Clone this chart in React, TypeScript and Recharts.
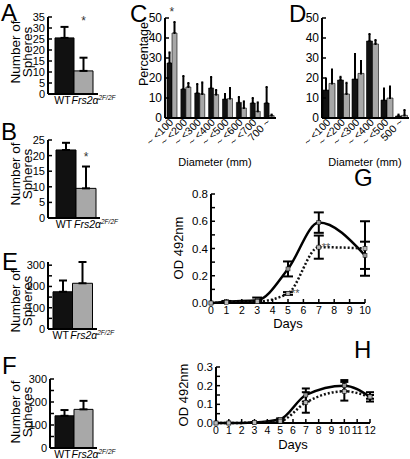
import React from "react";
import {
  BarChart, Bar, LineChart, Line, XAxis, YAxis, ErrorBar, Cell, ReferenceDot, LabelList
} from "recharts";

const FONT = "'Liberation Sans', Arial, sans-serif";

// A, B, E, F: number of spheres, WT vs Frs2a 2F/2F
const groups = ["WT", "Frs2"];
const aMeans = [25.5, 10.5];
const aErrs = [5, 6];
const bMeans = [21.8, 9.5];
const bErrs = [2.3, 7];
const eMeans = [175, 215];
const eErrs = [53, 100];
const fMeans = [140, 168];
const fErrs = [25, 37];

// C, D: sphere diameter distribution (%)
const cBins = ["~ <100", "~ <200", "~ <300", "~ <400", "~ <500", "~ <600", "~ <700", "700 ~"];
const cWt = [27.5, 14.5, 12.5, 15, 9.5, 7.8, 7.5, 7.5];
const cWtErr = [5.3, 6.5, 4.5, 5.5, 2.5, 2.7, 2.5, 8];
const cKo = [42.5, 15.5, 12, 11.7, 9.7, 5, 3.3, 1.2];
const cKoErr = [5.5, 2, 5.8, 2.3, 5.3, 3.3, 4.5, 0.5];

const dBins = ["~ <100", "~ <200", "~ <300", "~ <400", "~ <500", "500 ~"];
const dWt = [14, 19, 19.5, 38.5, 9, 1];
const dWtErr = [5.8, 1.6, 12.5, 3.5, 5.7, 0.7];
const dKo = [17.3, 12, 22.3, 37, 10, 1.3];
const dKoErr = [7, 5.6, 6.2, 2, 5.7, 2.7];

// G, H: OD 492nm over days
const gDays = [0, 1, 3, 5, 7, 10];
const gWt = [0, 0.01, 0.02, 0.25, 0.59, 0.35];
const gWtErr = [0, 0.005, 0.02, 0.055, 0.075, 0.1];
const gKo = [0, 0.005, 0.01, 0.07, 0.41, 0.4];
const gKoErr = [0, 0.003, 0.005, 0.01, 0.085, 0.2];
const gStars = ["", "", "", "**", "**", ""];
const gXTicks = [0, 1, 2, 3, 4, 5, 6, 7, 8, 9, 10];
const gYTicks = [0, 0.1, 0.2, 0.3, 0.4, 0.5, 0.6, 0.7, 0.8];

const hDays = [0, 1, 3, 5, 7, 10, 12];
const hWt = [0, 0, 0.003, 0.02, 0.15, 0.2, 0.14];
const hWtErr = [0, 0, 0.002, 0.005, 0.035, 0.03, 0.025];
const hKo = [0, 0, 0.002, 0.01, 0.11, 0.17, 0.14];
const hKoErr = [0, 0, 0.001, 0.005, 0.055, 0.05, 0.01];
const hXTicks = [0, 1, 2, 3, 4, 5, 6, 7, 8, 9, 10, 11, 12];
const hYTicks = [0, 0.05, 0.1, 0.15, 0.2, 0.25, 0.3];

const AX = { stroke: "#000", strokeWidth: 2 };
const TICK = { fontSize: 11, fill: "#000", fontFamily: FONT };

const GroupTick = (p: any) => {
  const { x, y, payload } = p;
  if (payload.value === "WT")
    return <text x={x - 2} y={y + 10} textAnchor="middle" fontSize={10.5} fontFamily={FONT}>WT</text>;
  return (
    <text x={x - 12} y={y + 10} fontSize={10.5} fontFamily={FONT} fontStyle="italic">
      Frs2α<tspan dy={-4} fontSize={6.5}>2F/2F</tspan>
    </text>
  );
};

const BinTick = (p: any) => {
  const { x, y, payload } = p;
  const tx = x + 2;
  const ty = y + 5;
  return (
    <text x={tx} y={ty} transform={`rotate(-45 ${tx} ${ty})`} textAnchor="end" fontSize={10.5} fontFamily={FONT}>
      {payload.value}
    </text>
  );
};

const square = (fill: string) => (p: any) => (
  <rect key={`d${p.index}`} x={p.cx - 2} y={p.cy - 2} width={4} height={4} fill={fill} stroke="#000" strokeWidth={0.5} />
);

function SpherePanel({ yTop, yZero, axisX, right, padL, padR, means, errs, max, ticks, major, star }: any) {
  const top = yTop - 10;
  const data = groups.map((g, i) => ({ g, v: means[i], e: [0, errs[i]] }));
  return (
    <div style={{ position: "absolute", left: 0, top }}>
      <BarChart
        width={right + 22}
        height={yZero - top + 20}
        data={data}
        barCategoryGap={0}
        margin={{ top: 10, right: 22, bottom: 4, left: axisX - 30 }}
      >
        <XAxis dataKey="g" height={16} padding={{ left: padL, right: padR }} interval={0}
          axisLine={AX} tickLine={false} tickSize={0} tickMargin={0} tick={<GroupTick />} />
        <YAxis width={30} domain={[0, max]} ticks={ticks} interval={0} axisLine={AX}
          tickLine={{ stroke: "#000", strokeWidth: 1.5 }} tickSize={-4} tickMargin={7} tick={TICK}
          tickFormatter={(v: number) => (v % major === 0 ? String(v) : "")} />
        <Bar dataKey="v" stroke="#000" strokeWidth={1} isAnimationActive={false}>
          {data.map((d, i) => <Cell key={d.g} fill={i === 0 ? "#111" : "#a8a8a8"} />)}
          <ErrorBar dataKey="e" width={4} strokeWidth={2} stroke="#000" />
        </Bar>
        {star !== undefined && (
          <ReferenceDot x="Frs2" y={star} r={1} fill="none" stroke="none" ifOverflow="visible"
            label={{ value: "*", position: "center", fontSize: 12, fill: "#333", fontFamily: FONT }} />
        )}
      </BarChart>
    </div>
  );
}

function DiameterPanel({ left, width, padLeft, bins, wt, wtErr, ko, koErr, barSize, star }: any) {
  const data = bins.map((b: string, i: number) => ({
    b, wt: wt[i], wtE: [0, wtErr[i]], ko: ko[i], koE: [0, koErr[i]],
  }));
  return (
    <div style={{ position: "absolute", left, top: 0 }}>
      <BarChart width={width} height={154} data={data} barGap={0} barSize={barSize}
        margin={{ top: 18, right: 1, bottom: 2, left: padLeft }}>
        <XAxis dataKey="b" height={34} interval={0} axisLine={AX} tickLine={false}
          tickSize={0} tickMargin={0} tick={<BinTick />} />
        <YAxis width={30} domain={[0, 50]} ticks={[0, 10, 20, 30, 40, 50]} interval={0} axisLine={AX}
          tickLine={{ stroke: "#000", strokeWidth: 1.5 }} tickSize={-4} tickMargin={7}
          tick={{ ...TICK, fontSize: 12 }} />
        <Bar dataKey="wt" fill="#111" stroke="#000" strokeWidth={0.6} isAnimationActive={false}>
          <ErrorBar dataKey="wtE" width={1} strokeWidth={2} stroke="#000" />
        </Bar>
        <Bar dataKey="ko" fill="#a8a8a8" stroke="#000" strokeWidth={0.6} isAnimationActive={false}>
          <ErrorBar dataKey="koE" width={1} strokeWidth={2} stroke="#000" />
        </Bar>
        {star && (
          <ReferenceDot x={bins[0]} y={53} r={1} fill="none" stroke="none" ifOverflow="visible"
            label={{ value: "*", position: "center", fontSize: 12, fill: "#333", fontFamily: FONT }} />
        )}
      </BarChart>
    </div>
  );
}

function GrowthPanel({ left, top, width, height, padLeft, padTop, days, wt, wtErr, ko, koErr, stars, xTicks, yTicks, yMax, capW, fmt }: any) {
  const data = days.map((d: number, i: number) => ({
    day: d, wt: wt[i], wtE: wtErr[i], ko: ko[i], koE: koErr[i], star: stars ? stars[i] : "",
  }));
  return (
    <div style={{ position: "absolute", left, top }}>
      <LineChart width={width} height={height} data={data}
        margin={{ top: padTop, right: 10, bottom: 4, left: padLeft }}>
        <XAxis dataKey="day" type="number" domain={[0, xTicks[xTicks.length - 1]]} ticks={xTicks} interval={0}
          height={16} axisLine={AX} tickLine={{ stroke: "#000", strokeWidth: 1.5 }} tickSize={-4} tickMargin={8}
          tick={{ ...TICK, fontSize: 10.5 }} />
        <YAxis type="number" domain={[0, yMax]} ticks={yTicks} interval={0} width={30} axisLine={AX}
          tickLine={{ stroke: "#000", strokeWidth: 1.5 }} tickSize={-4} tickMargin={7}
          tick={{ ...TICK, fontSize: 11.5 }} tickFormatter={fmt} />
        <Line dataKey="wt" type="monotone" stroke="#000" strokeWidth={2.5} dot={square("#999")} isAnimationActive={false}>
          <ErrorBar dataKey="wtE" width={capW} strokeWidth={2} stroke="#000" />
        </Line>
        <Line dataKey="ko" type="monotone" stroke="#111" strokeWidth={2.5} strokeDasharray="2 2"
          dot={square("#bbb")} isAnimationActive={false}>
          <ErrorBar dataKey="koE" width={capW} strokeWidth={2} stroke="#000" />
          <LabelList dataKey="star" position="right" offset={3} fontSize={11} fill="#555" fontFamily={FONT} />
        </Line>
      </LineChart>
    </div>
  );
}

const sphereTitle = (cy: number) => (
  <text key={cy} transform="rotate(-90)" textAnchor="middle" fontSize={13.5}>
    <tspan x={-cy} y={20}>Number of</tspan>
    <tspan x={-cy} y={31.5}>Spheres</tspan>
  </text>
);

export default function App() {
  return (
    <div style={{ position: "absolute", left: 0, top: 0, width: 410, height: 459, overflow: "hidden", background: "#fff", fontFamily: FONT }}>
      <SpherePanel yTop={17} yZero={94} axisX={48} right={98} padL={7} padR={5}
        means={aMeans} errs={aErrs} max={35} ticks={[0, 5, 10, 15, 20, 25, 30, 35]} major={5} star={33.5} />
      <SpherePanel yTop={140} yZero={218} axisX={48} right={100} padL={8} padR={4}
        means={bMeans} errs={bErrs} max={25} ticks={[0, 5, 10, 15, 20, 25]} major={5} star={19.5} />
      <SpherePanel yTop={262} yZero={329} axisX={48} right={97} padL={5} padR={5}
        means={eMeans} errs={eErrs} max={300} ticks={[0, 50, 100, 150, 200, 250, 300]} major={100} />
      <SpherePanel yTop={379} yZero={448} axisX={50} right={97} padL={5} padR={4}
        means={fMeans} errs={fErrs} max={300} ticks={[0, 50, 100, 150, 200, 250, 300]} major={100} />

      <DiameterPanel left={130} width={147} padLeft={5} bins={cBins} wt={cWt} wtErr={cWtErr}
        ko={cKo} koErr={cKoErr} barSize={5} star />
      <DiameterPanel left={285} width={125} padLeft={7} bins={dBins} wt={dWt} wtErr={dWtErr}
        ko={dKo} koErr={dKoErr} barSize={6} />

      <GrowthPanel left={165} top={185} width={210} height={138} padLeft={16} padTop={9}
        days={gDays} wt={gWt} wtErr={gWtErr} ko={gKo} koErr={gKoErr} stars={gStars}
        xTicks={gXTicks} yTicks={gYTicks} yMax={0.8} capW={5}
        fmt={(v: number) => (Math.round(v * 10) % 2 === 0 ? v.toFixed(1) : "")} />
      <GrowthPanel left={170} top={355} width={210} height={88} padLeft={16} padTop={12}
        days={hDays} wt={hWt} wtErr={hWtErr} ko={hKo} koErr={hKoErr}
        xTicks={hXTicks} yTicks={hYTicks} yMax={0.3} capW={4}
        fmt={(v: number) => (Math.round(v * 100) % 10 === 0 ? v.toFixed(1) : "")} />

      <svg width={410} height={459} style={{ position: "absolute", left: 0, top: 0, pointerEvents: "none" }}
        fontFamily={FONT} fill="#000">
        <g fontSize={24}>
          <text x={1} y={21}>A</text>
          <text x={1} y={140}>B</text>
          <text x={2} y={270}>E</text>
          <text x={2} y={374}>F</text>
          <text x={130} y={22}>C</text>
          <text x={289} y={22}>D</text>
          <text x={354} y={186}>G</text>
          <text x={354} y={358}>H</text>
        </g>
        {[52, 174, 301, 412].map(sphereTitle)}
        <text transform="rotate(-90)" x={-54} y={148} textAnchor="middle" fontSize={12.5}>Percentage</text>
        <text x={215} y={166} textAnchor="middle" fontSize={11}>Diameter (mm)</text>
        <text x={365} y={166} textAnchor="middle" fontSize={11}>Diameter (mm)</text>
        <text transform="rotate(-90)" x={-248} y={183} textAnchor="middle" fontSize={13}>OD 492nm</text>
        <text x={288} y={328} textAnchor="middle" fontSize={13}>Days</text>
        <text transform="rotate(-90)" x={-395} y={188} textAnchor="middle" fontSize={13}>OD 492nm</text>
        <text x={293} y={449} textAnchor="middle" fontSize={13}>Days</text>
      </svg>
    </div>
  );
}
